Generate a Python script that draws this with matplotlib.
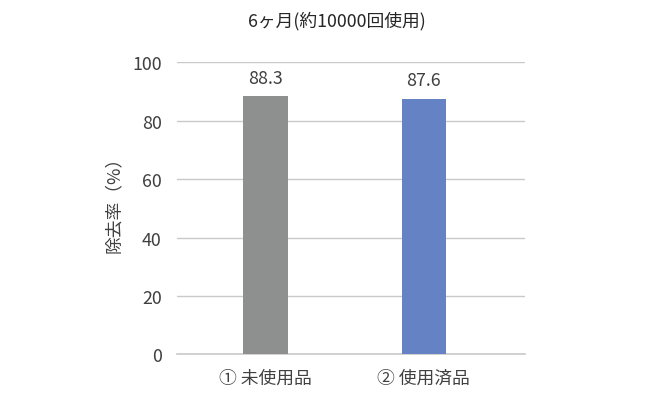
import matplotlib
matplotlib.use('Agg')
import matplotlib.pyplot as plt

plt.rcParams['font.family'] = ['Noto Sans CJK JP', 'DejaVu Sans']

categories = ['① 未使用品', '② 使用済品']
values = [88.3, 87.6]
colors = ['#8e908f', '#6482c4']
title = '6ヶ月(約10000回使用)'
ylabel = '除去率（%）'
yticks = [0, 20, 40, 60, 80, 100]

text_color = '#404040'
fs = 12.8

fig = plt.figure(figsize=(6.7, 4.02), dpi=100)
ax = fig.add_axes([0.2642, 0.1157, 0.5194, 0.7268])

x = list(range(len(categories)))
bars = ax.bar(x, values, width=0.28, color=colors, zorder=3)

for b, v in zip(bars, values):
    ax.annotate(f'{v:.1f}', (b.get_x() + b.get_width() / 2, v),
                xytext=(0, 7), textcoords='offset points',
                ha='center', va='bottom', fontsize=fs, color=text_color)

ax.set_xlim(-0.56, 1.64)
ax.set_ylim(0, 100)
ax.set_yticks(yticks)
ax.set_xticks(x)
ax.set_xticklabels(categories, fontsize=fs, color=text_color)
ax.tick_params(axis='y', labelsize=fs, labelcolor=text_color, length=0, pad=11)
ax.tick_params(axis='x', length=0, pad=10)

ax.grid(axis='y', color='#c9c9c9', linewidth=1, zorder=0)
for s in ['top', 'right', 'left']:
    ax.spines[s].set_visible(False)
ax.spines['bottom'].set_color('#c9c9c9')
ax.spines['bottom'].set_linewidth(1.2)

ax.set_ylabel(ylabel, fontsize=fs, color=text_color)
ax.yaxis.set_label_coords(-0.155, 0.53)
fig.text(0.503, 0.948, title, ha='center', va='center', fontsize=fs, color='#262626')

plt.savefig('out.png', dpi=100)
